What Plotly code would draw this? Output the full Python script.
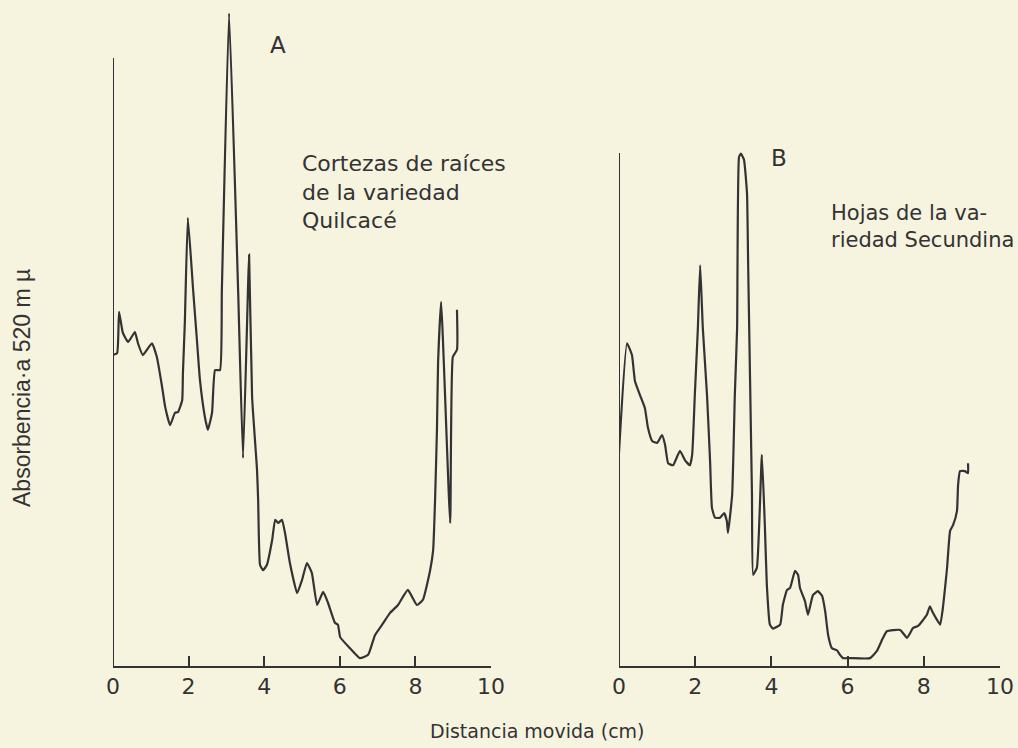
import plotly.graph_objects as go

# ---- Data ----
# Panel A: Cortezas de raíces de la variedad Quilcacé
dist_a = [0.00, 0.11, 0.16, 0.26, 0.40, 0.58, 0.66, 0.79, 1.03, 1.16, 1.30, 1.38, 1.51, 1.64,
          1.72, 1.83, 1.85, 1.90, 1.98, 2.12, 2.22, 2.30, 2.43, 2.51, 2.62, 2.70, 2.83, 2.88,
          3.07, 3.31, 3.44, 3.57, 3.60, 3.68, 3.81, 3.84, 3.89, 3.97, 4.07, 4.21, 4.29, 4.37,
          4.47, 4.55, 4.68, 4.87, 5.00, 5.13, 5.26, 5.40, 5.56, 5.69, 5.87, 5.95, 6.01, 6.27,
          6.53, 6.75, 6.93, 7.12, 7.33, 7.54, 7.80, 8.04, 8.20, 8.39, 8.47, 8.52, 8.57, 8.60,
          8.68, 8.92, 8.99, 9.10, 9.10]
abs_a = [47.4, 47.7, 54.0, 50.8, 49.4, 50.9, 49.2, 47.4, 49.2, 47.1, 42.5, 39.5, 36.7, 38.6,
         38.7, 40.5, 44.7, 52.3, 68.3, 57.3, 49.7, 43.6, 38.0, 36.0, 38.6, 45.1, 45.1, 57.3,
         99.5, 57.3, 31.7, 57.3, 62.7, 41.0, 29.9, 25.3, 15.4, 14.6, 15.4, 19.2, 22.3, 21.8,
         22.3, 20.3, 15.7, 11.1, 13.1, 15.7, 14.2, 9.3, 11.3, 9.6, 6.6, 6.3, 4.4, 2.7,
         1.2, 1.7, 4.7, 6.3, 8.1, 9.3, 11.6, 9.3, 10.1, 14.6, 17.7, 25.3, 36.0, 46.2,
         55.5, 21.8, 47.1, 48.2, 54.3]

# Panel B: Hojas de la variedad Secundina
dist_b = [0.00, 0.21, 0.34, 0.42, 0.55, 0.68, 0.76, 0.87, 1.00, 1.13, 1.21, 1.29, 1.42, 1.60,
          1.73, 1.86, 1.92, 1.99, 2.07, 2.13, 2.20, 2.31, 2.39, 2.44, 2.52, 2.65, 2.76, 2.83,
          2.86, 2.97, 3.04, 3.10, 3.15, 3.20, 3.28, 3.36, 3.39, 3.49, 3.52, 3.62, 3.75, 3.83,
          3.88, 3.96, 4.04, 4.23, 4.30, 4.41, 4.49, 4.62, 4.70, 4.75, 4.88, 4.96, 5.09, 5.22,
          5.33, 5.41, 5.49, 5.59, 5.72, 5.80, 5.88, 6.06, 6.59, 6.77, 6.93, 7.03, 7.38, 7.56,
          7.72, 7.85, 7.98, 8.08, 8.16, 8.24, 8.35, 8.43, 8.50, 8.61, 8.69, 8.77, 8.87, 8.90,
          8.95, 9.08, 9.16, 9.16]
abs_b = [32.5, 49.2, 47.4, 43.4, 41.3, 39.3, 36.3, 34.3, 34.0, 35.2, 33.7, 30.9, 30.6, 32.8,
         31.4, 30.6, 32.2, 41.3, 51.5, 61.1, 51.5, 41.3, 31.3, 24.1, 22.6, 22.6, 23.3, 22.1,
         20.3, 26.1, 41.3, 51.5, 77.6, 78.1, 77.2, 72.0, 61.0, 26.1, 13.9, 15.0, 32.2, 21.1,
         12.4, 6.3, 5.7, 6.3, 9.3, 11.6, 11.9, 14.5, 13.9, 11.9, 9.9, 7.8, 10.8, 11.4,
         10.7, 8.4, 4.7, 2.7, 2.4, 1.7, 1.2, 1.2, 1.2, 2.3, 4.3, 5.3, 5.5, 4.3,
         5.8, 6.1, 7.0, 7.8, 9.1, 8.1, 7.0, 6.3, 8.8, 14.9, 20.6, 21.5, 23.6, 27.6,
         29.7, 29.7, 29.4, 30.9]

x_ticks = [0, 2, 4, 6, 8, 10]
x_tick_labels = ["0", "2", "4", "6", "8", "10"]
axis_top_a = 92.7
axis_top_b = 78.2

# ---- Style ----
W, H = 1018, 748
MT, MB = 10, 82
PH = H - MT - MB
BG = "#f6f3df"
INK = "#333333"
LETTER_FONT = "DejaVu Sans"


def px(xpix):
    return xpix / W


def py(ypix):
    return (H - MB - ypix) / PH


fig = go.Figure()
fig.add_trace(go.Scatter(x=dist_a, y=abs_a, mode="lines", xaxis="x", yaxis="y",
                         line=dict(color=INK, width=2.2, shape="spline", smoothing=0.4),
                         showlegend=False, hoverinfo="skip"))
fig.add_trace(go.Scatter(x=dist_b, y=abs_b, mode="lines", xaxis="x2", yaxis="y2",
                         line=dict(color=INK, width=2.2, shape="spline", smoothing=0.4),
                         showlegend=False, hoverinfo="skip"))

xcommon = dict(range=[0, 10], showline=True, linecolor=INK, linewidth=2, ticks="inside",
               ticklen=10, tickwidth=2, tickcolor=INK, tickvals=x_ticks, ticktext=x_tick_labels,
               showgrid=False, zeroline=False, automargin=False,
               tickfont=dict(family=LETTER_FONT, size=22, color=INK))
ycommon = dict(range=[0, 100], visible=False, showgrid=False, zeroline=False,
               automargin=False, domain=[0, 1])

fig.update_layout(
    width=W, height=H,
    margin=dict(l=0, r=0, t=MT, b=MB, pad=0),
    paper_bgcolor=BG, plot_bgcolor=BG,
    template="none",
    xaxis=dict(domain=[113 / W, 491 / W], anchor="y", **xcommon),
    yaxis=dict(anchor="x", **ycommon),
    xaxis2=dict(domain=[619 / W, 1000 / W], anchor="y2", **xcommon),
    yaxis2=dict(anchor="x2", **ycommon),
    shapes=[
        dict(type="line", xref="x", yref="y", x0=0, x1=0, y0=0, y1=axis_top_a,
             line=dict(color=INK, width=2)),
        dict(type="line", xref="x2", yref="y2", x0=0, x1=0, y0=0, y1=axis_top_b,
             line=dict(color=INK, width=2)),
    ],
)


def label(xp, yp, text, size, xanchor="center", yanchor="middle", family=LETTER_FONT, **kw):
    fig.add_annotation(x=px(xp), y=py(yp), xref="paper", yref="paper", text=text,
                       xanchor=xanchor, yanchor=yanchor, showarrow=False, align="left",
                       font=dict(family=family, size=size, color=INK), **kw)


label(278, 45, "A", 23)
label(300, 149, "Cortezas de raíces<br>de la variedad<br>Quilcacé", 22,
      xanchor="left", yanchor="top")
label(779, 158, "B", 23)
label(829, 199, "Hojas de la va-<br>riedad Secundina", 21, xanchor="left", yanchor="top")
label(537, 731, "Distancia movida (cm)", 19)
label(22, 388, "Absorbencia·a 520 m µ", 23, family="Liberation Sans", textangle=-90)

fig.write_html("out.html",
               config={"displayModeBar": False},
               post_script="document.body.style.margin='0';"
                           "document.body.style.background='" + BG + "';")
